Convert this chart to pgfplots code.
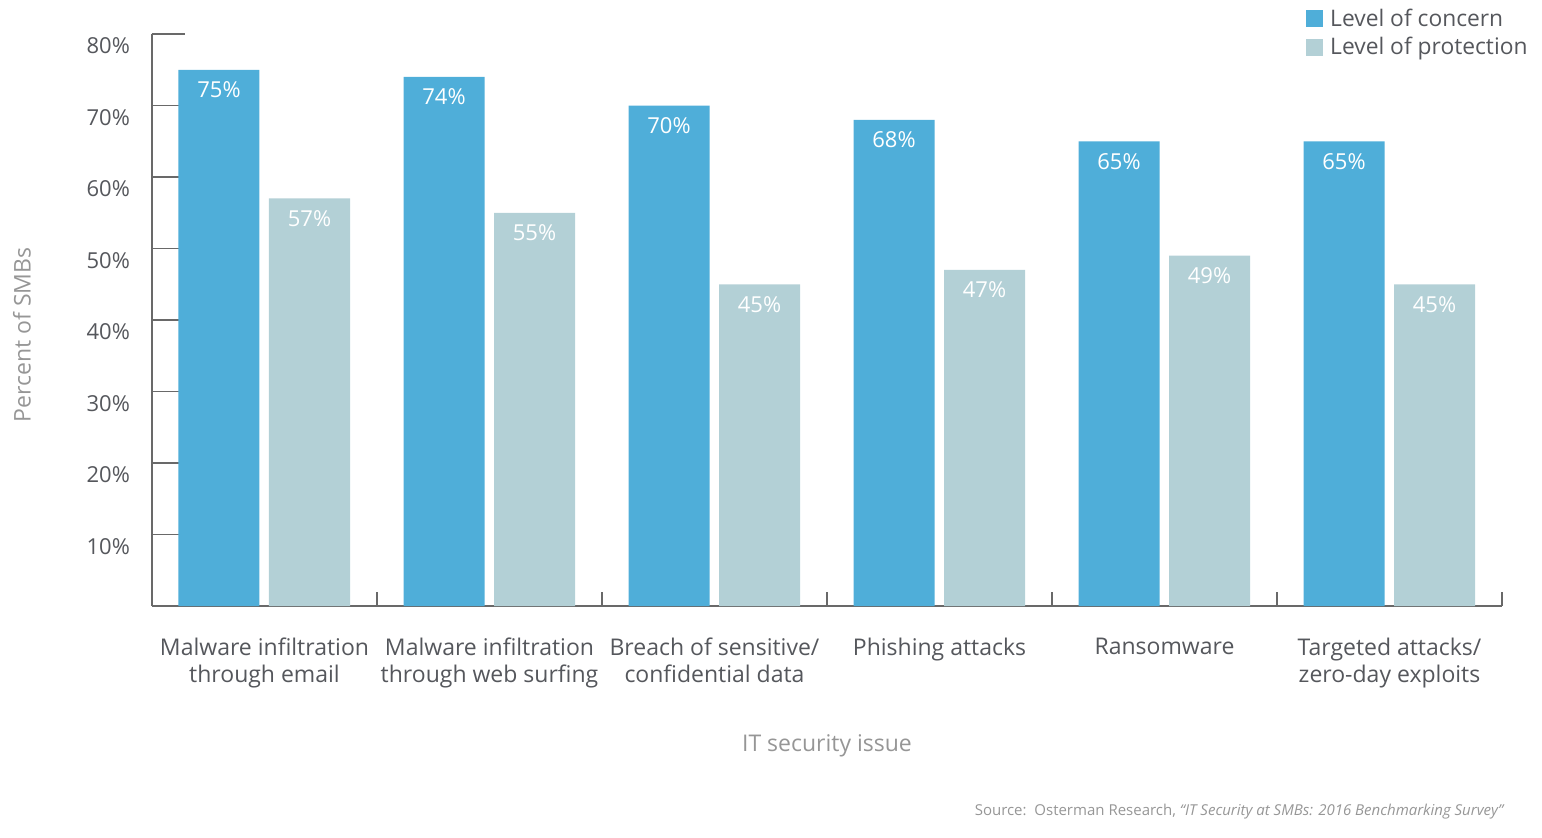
\documentclass[border=0pt]{standalone}
\usepackage{fontspec}
\setmainfont{Open Sans}
\usepackage{pgfplots}
\pgfplotsset{compat=1.18}
\definecolor{concern}{RGB}{79,174,217}
\definecolor{protect}{RGB}{179,208,214}
\definecolor{axisgray}{RGB}{105,105,105}
\definecolor{ticktext}{RGB}{85,87,92}
\definecolor{labelgray}{RGB}{150,150,150}
\begin{document}
\begin{tikzpicture}
\useasboundingbox (-76pt,-115.5pt) rectangle (695pt,303pt);
\begin{axis}[
  at={(0,0)}, anchor=south west,
  scale only axis, width=675pt, height=286pt,
  xmin=-0.5, xmax=5.5, ymin=0, ymax=80,
  clip=false,
  /pgf/number format/assume math mode=true,
  axis lines=left,
  axis line style={-, draw=axisgray, line width=0.6pt},
  ybar, bar width=40.5pt,
  tick align=inside, major tick length=7pt, minor tick length=16.5pt,
  tick style={draw=axisgray, line width=0.6pt},
  ytick={10,20,30,40,50,60,70,80},
  minor ytick={10,20,30,40,50,60,70,80},
  yticklabels={10\%,20\%,30\%,40\%,50\%,60\%,70\%,80\%},
  yticklabel style={yshift=-6pt, xshift=-7.5pt, font=\fontsize{11}{13}\selectfont, text=ticktext},
  xtick={0.5,1.5,2.5,3.5,4.5,5.5},
  xticklabels={{Malware infiltration\\through email},{Malware infiltration\\through web surfing},{Breach of sensitive/\\confidential data},{Phishing attacks},{Ransomware},{Targeted attacks/\\zero-day exploits}},
  xticklabel style={xshift=-56.25pt, yshift=-12.5pt, align=center, anchor=north, font=\fontsize{11.5}{13.5}\selectfont, text=ticktext},
  xlabel={IT security issue},
  xlabel style={at={(axis description cs:0.5,-0.245)}, anchor=center, font=\fontsize{11.5}{13.5}\selectfont, text=labelgray},
  ylabel={Percent of SMBs},
  ylabel style={at={(axis description cs:-0.0963,0.474)}, anchor=center, font=\fontsize{11.5}{13.5}\selectfont, text=labelgray},
  nodes near coords={\pgfmathprintnumber{\pgfplotspointmeta}\%},
  every node near coord/.append style={anchor=center, yshift=-10pt, text=white, font=\fontsize{11}{13}\selectfont},
  legend cell align=left,
  legend image code/.code={\path[#1] (0pt,-4.25pt) rectangle (8.5pt,4.25pt);},
  legend style={at={(1.0244,1.052)}, anchor=north east, draw=none, fill=none, inner sep=0pt,
    font=\fontsize{11.4}{13}\selectfont, text=ticktext, row sep=0pt,
    nodes={inner xsep=3.5pt}},
]
\addplot[bar shift=-22.75pt, fill=concern, draw=none] coordinates {(0,75) (1,74) (2,70) (3,68) (4,65) (5,65)};
\addlegendentry{Level of concern}
\addplot[bar shift=22.5pt, fill=protect, draw=none] coordinates {(0,57) (1,55) (2,45) (3,47) (4,49) (5,45)};
\addlegendentry{Level of protection}
\node[anchor=east, inner sep=0pt, text=labelgray, font=\fontsize{7.5}{9}\selectfont] at (axis description cs:1.0022,-0.3601) {Source:\ \ Osterman Research, \textit{“IT Security at SMBs: 2016 Benchmarking Survey”}};
\end{axis}
\end{tikzpicture}
\end{document}
